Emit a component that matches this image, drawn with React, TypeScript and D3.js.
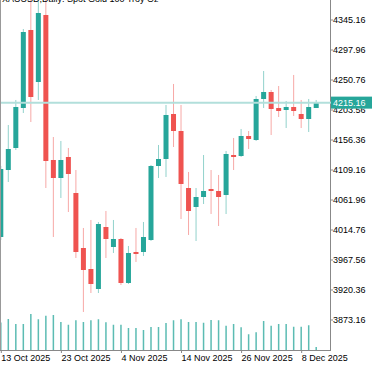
import React from "react";
import * as d3 from "d3";

const W = 375;
const H = 366;

const title = "XAUUSD,Daily:  Spot Gold 100 Troy Oz";

const dates = [
  "2025-10-13", "2025-10-14", "2025-10-15", "2025-10-16", "2025-10-17",
  "2025-10-20", "2025-10-21", "2025-10-22", "2025-10-23", "2025-10-24",
  "2025-10-27", "2025-10-28", "2025-10-29", "2025-10-30", "2025-10-31",
  "2025-11-03", "2025-11-04", "2025-11-05", "2025-11-06", "2025-11-07",
  "2025-11-10", "2025-11-11", "2025-11-12", "2025-11-13", "2025-11-14",
  "2025-11-17", "2025-11-18", "2025-11-19", "2025-11-20", "2025-11-21",
  "2025-11-24", "2025-11-25", "2025-11-26", "2025-11-27", "2025-11-28",
  "2025-12-01", "2025-12-02", "2025-12-03", "2025-12-04", "2025-12-05",
  "2025-12-08", "2025-12-09", "2025-12-10",
];

const opens = [
  4003.75, 4109.16, 4143.78, 4206.71, 4329.43, 4247.62, 4353.03, 4124.90, 4096.58, 4129.62,
  4072.98, 3986.44, 3953.40, 3921.94, 4019.48, 3988.02, 4000.60, 3931.38, 3980.15, 3980.15,
  3999.03, 4115.46, 4126.47, 4197.27, 4170.52, 4080.84, 4050.95, 4066.68, 4079.27, 4076.12,
  4069.83, 4132.76, 4131.19, 4162.66, 4156.36, 4220.87, 4231.88, 4206.71, 4203.56, 4208.28,
  4197.27, 4189.40, 4206.71,
];
const highs = [
  4115.46, 4179.96, 4219.30, 4331.00, 4379.78, 4381.35, 4382.92, 4161.08, 4154.79, 4143.78,
  4109.16, 4017.91, 4030.50, 4027.35, 4044.66, 4030.50, 4002.18, 3989.59, 4017.91, 4027.35,
  4117.03, 4148.50, 4211.43, 4244.47, 4211.43, 4106.02, 4080.84, 4132.76, 4109.16, 4101.30,
  4139.06, 4159.51, 4173.67, 4170.52, 4225.59, 4264.92, 4235.03, 4241.32, 4217.72, 4258.63,
  4219.30, 4220.87, 4219.30,
];
const lows = [
  3999.03, 4090.28, 4140.63, 4198.84, 4184.68, 4219.30, 4080.84, 4003.75, 4065.11, 4043.08,
  3970.71, 3885.75, 3915.64, 3915.64, 3970.71, 3978.58, 3928.23, 3929.80, 3964.42, 3973.86,
  3997.46, 4096.58, 4098.15, 4145.35, 4032.07, 4006.90, 3997.46, 4055.67, 4039.94, 4021.06,
  4039.94, 4109.16, 4129.62, 4142.20, 4154.79, 4206.71, 4164.23, 4192.55, 4175.24, 4194.12,
  4175.24, 4168.95, 4206.71,
];
const closes = [
  4110.74, 4142.20, 4208.28, 4326.28, 4224.02, 4356.18, 4123.32, 4096.58, 4124.90, 4102.87,
  3980.15, 3951.83, 3929.80, 4024.20, 4000.60, 4000.60, 3931.38, 3978.58, 3977.00, 4003.75,
  4115.46, 4126.47, 4195.70, 4170.52, 4087.14, 4044.66, 4066.68, 4076.12, 4076.12, 4066.68,
  4134.34, 4129.62, 4162.66, 4157.94, 4220.87, 4231.88, 4205.14, 4201.99, 4208.28, 4201.99,
  4189.40, 4208.28, 4215.16,
];
const volumes = [
  110000, 124000, 104000, 104000, 144000, 123000, 137000, 140000, 112000, 101000,
  119000, 112000, 119000, 123000, 111000, 101000, 101000, 88000, 88000, 80000,
  92000, 92000, 108000, 119000, 123000, 112000, 112000, 109000, 120000, 119000,
  97000, 104000, 91000, 63000, 71000, 116000, 97000, 104000, 104000, 93000,
  93000, 99000, 12000,
];

const priceTicks = [3873.16, 3920.36, 3967.56, 4014.76, 4061.96, 4109.16, 4156.36, 4203.56, 4250.76, 4297.96, 4345.16];
const priceTickLabels = ["3873.16", "3920.36", "3967.56", "4014.76", "4061.96", "4109.16", "4156.36", "4203.56", "4250.76", "4297.96", "4345.16"];
const dateTickIndex = [0, 8, 16, 24, 32, 40];
const dateTickLabels = ["13 Oct 2025", "23 Oct 2025", "4 Nov 2025", "14 Nov 2025", "26 Nov 2025", "8 Dec 2025"];
const lastPrice = 4215.16;
const lastPriceLabel = "4215.16";

const UP = "#26a69a";
const DOWN = "#ef5350";
const FONT = "'Liberation Sans', Arial, sans-serif";

export default function App() {
  const plotRight = 330;
  const plotBottom = 350;
  const x = d3.scaleLinear().domain([0, dates.length - 1]).range([0.8, 316.2]);
  const y = d3.scaleLinear().domain([3873.16, 4345.16]).range([320, 20]);
  const v = d3.scaleLinear().domain([0, 160000]).range([plotBottom, plotBottom - 40]);
  const bodyW = 5;

  return (
    <svg
      width={W}
      height={H}
      style={{ position: "absolute", left: 0, top: 0, background: "#fff" }}
      fontFamily={FONT}
    >
      <defs>
        <clipPath id="plot">
          <rect x={1} y={0} width={plotRight - 1} height={plotBottom} />
        </clipPath>
      </defs>
      <rect x={0} y={0} width={W} height={H} fill="#fff" />
      <g clipPath="url(#plot)">
        {volumes.map((vol, i) => (
          <rect
            key={"v" + i}
            x={x(i) - 0.75}
            y={v(vol)}
            width={1.5}
            height={plotBottom - v(vol)}
            fill={UP}
            opacity={0.75}
          />
        ))}
        {dates.map((d, i) => {
          const up = closes[i] >= opens[i];
          const c = up ? UP : DOWN;
          const top = y(Math.max(opens[i], closes[i]));
          const bot = y(Math.min(opens[i], closes[i]));
          return (
            <g key={d}>
              <line
                x1={x(i)}
                x2={x(i)}
                y1={y(highs[i])}
                y2={y(lows[i])}
                stroke={c}
                strokeOpacity={0.5}
                strokeWidth={1}
              />
              <rect
                x={x(i) - bodyW / 2}
                y={top}
                width={bodyW}
                height={Math.max(1.5, bot - top)}
                fill={c}
              />
            </g>
          );
        })}
        <line
          x1={0}
          x2={plotRight}
          y1={y(lastPrice)}
          y2={y(lastPrice)}
          stroke="#b2dfdb"
          strokeWidth={2}
        />
      </g>
      <text x={2} y={1.5} fontSize={9} fill="#000">
        {title}
      </text>
      <line x1={0.5} x2={0.5} y1={0} y2={plotBottom} stroke="#999" strokeWidth={1} />
      <line x1={plotRight + 0.5} x2={plotRight + 0.5} y1={0} y2={plotBottom + 1} stroke="#888" strokeWidth={1} />
      <line x1={0} x2={plotRight + 1} y1={plotBottom + 0.5} y2={plotBottom + 0.5} stroke="#888" strokeWidth={1} />
      {priceTicks.map((t, i) => (
        <g key={"pt" + i}>
          <line x1={plotRight} x2={plotRight + 3} y1={y(t)} y2={y(t)} stroke="#888" />
          <text x={plotRight + 3} y={y(t)} dy="0.35em" fontSize={9} fill="#000">
            {priceTickLabels[i]}
          </text>
        </g>
      ))}
      {dateTickIndex.map((idx, i) => (
        <g key={"dt" + i}>
          <line x1={x(idx) + 0.5} x2={x(idx) + 0.5} y1={plotBottom} y2={plotBottom + 3} stroke="#888" />
          <text x={x(idx) + 0.5} y={plotBottom + 8} dy="0.35em" fontSize={9} fill="#000">
            {dateTickLabels[i]}
          </text>
        </g>
      ))}
      <line x1={plotRight} x2={plotRight + 4} y1={y(lastPrice)} y2={y(lastPrice)} stroke="#b2dfdb" strokeWidth={2} />
      <rect x={plotRight + 1} y={y(lastPrice) - 6} width={41} height={12} fill={UP} />
      <text x={plotRight + 3} y={y(lastPrice)} dy="0.35em" fontSize={9} fill="#fff">
        {lastPriceLabel}
      </text>
    </svg>
  );
}
